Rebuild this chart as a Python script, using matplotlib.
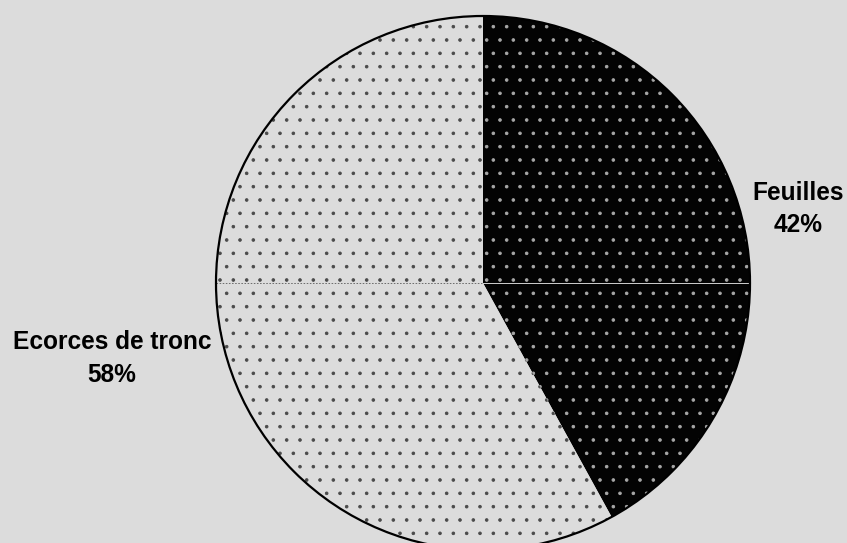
import matplotlib
matplotlib.use("Agg")
import matplotlib.pyplot as plt
from matplotlib.patches import Circle

labels = ["Feuilles", "Ecorces de tronc"]
shares = [42, 58]
fills = ["#030303", "#dcdcdc"]
dot_colors = ["#a8a8a8", "#4a4a4a"]
hatches = [".", "."]

DPI = 80
W, H = 847, 543
bg = "#dcdcdc"

plt.rcParams["hatch.linewidth"] = 0.8
fig = plt.figure(figsize=(W / DPI, H / DPI), dpi=DPI, facecolor=bg)
ax = fig.add_axes([0, 0, 1, 1])
ax.set_facecolor(bg)

cx, cy, r = 483, H - 283, 267
wedges, _ = ax.pie(shares, startangle=90, counterclock=False,
                   center=(cx, cy), radius=r, colors=fills,
                   wedgeprops=dict(linewidth=0))
for w, dc, h in zip(wedges, dot_colors, hatches):
    w.set_hatch(h)
    w.set_edgecolor(dc)
    w.set_linewidth(0)

# outline of the pie
ax.add_patch(Circle((cx, cy), r, fill=False, edgecolor="black", lw=2.0, zorder=5))
# thin horizontal rule across the pie at centre height
ax.plot([cx, cx + r], [cy, cy], color="#c8c8c8", lw=0.9, zorder=4)
ax.plot([cx - r, cx], [cy, cy], color="#505050", lw=0.7, ls=(0, (2, 2)), zorder=4)

fs = 24.5 * 72 / DPI
label_pos = [(798, 200, 232), (112, 349, 382)]
for name, pct, (x, b1, b2) in zip(labels, shares, label_pos):
    ax.text(x, H - b1, name, ha="center", va="baseline", fontsize=fs,
            fontweight="bold", family="Liberation Sans")
    ax.text(x, H - b2, f"{pct}%", ha="center", va="baseline", fontsize=fs,
            fontweight="bold", family="Liberation Sans")

ax.set_xlim(0, W)
ax.set_ylim(0, H)
ax.set_aspect("auto")
ax.axis("off")
fig.savefig("out.png", dpi=DPI, facecolor=bg)
